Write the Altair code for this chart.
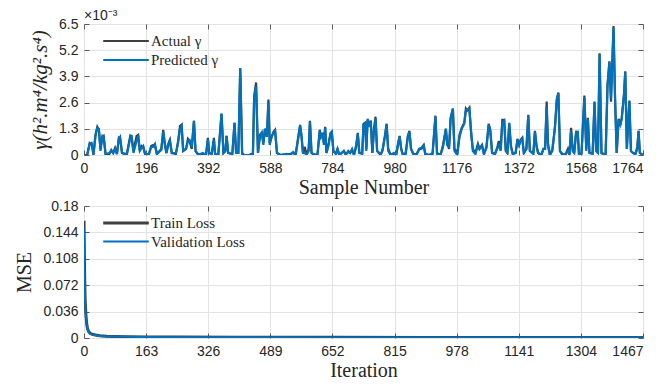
import altair as alt
import pandas as pd

# ---------------- data ----------------
# top panel: sample index, actual and predicted gamma (values in units of 1e-3)
sample_idx = [0, 10, 18, 24, 30, 36, 42, 47, 52, 58, 62, 68, 80, 86, 92, 98, 104, 110, 114, 120,
              135, 146, 150, 156, 166, 171, 176, 182, 187, 193, 205, 212, 218, 224, 230, 244, 250,
              255, 260, 266, 271, 277, 290, 297, 303, 308, 313, 322, 328, 333, 340, 347, 352, 360,
              375, 385, 391, 395, 403, 410, 414, 424, 434, 440, 446, 450, 455, 468, 475, 480, 487,
              493, 499, 505, 520, 528, 533, 537, 543, 549, 555, 561, 566, 571, 577, 582, 586, 592,
              598, 603, 609, 620, 640, 650, 660, 668, 675, 682, 686, 691, 697, 702, 709, 713, 718,
              728, 737, 744, 748, 753, 757, 761, 765, 772, 778, 782, 787, 795, 800, 806, 820, 826,
              834, 840, 846, 852, 859, 864, 869, 878, 882, 887, 891, 895, 900, 905, 910, 915, 920,
              925, 936, 942, 949, 955, 960, 968, 978, 985, 991, 996, 1001, 1006, 1015, 1022, 1027,
              1032, 1040, 1050, 1058, 1065, 1072, 1077, 1090, 1100, 1109, 1114, 1125, 1133, 1142,
              1146, 1152, 1157, 1164, 1169, 1178, 1185, 1192, 1200, 1205, 1209, 1216, 1222, 1227,
              1235, 1243, 1248, 1256, 1262, 1270, 1277, 1282, 1288, 1297, 1303, 1309, 1315, 1320,
              1326, 1331, 1336, 1342, 1347, 1353, 1362, 1368, 1373, 1378, 1383, 1388, 1396, 1402,
              1407, 1418, 1423, 1428, 1433, 1443, 1450, 1455, 1460, 1464, 1470, 1478, 1486, 1492,
              1497, 1502, 1510, 1520, 1527, 1532, 1537, 1542, 1547, 1553, 1558, 1562, 1570, 1579,
              1585, 1590, 1595, 1605, 1611, 1616, 1622, 1627, 1633, 1640, 1646, 1652, 1658, 1663,
              1671, 1676, 1681, 1687, 1692, 1697, 1704, 1708, 1713, 1721, 1726, 1733, 1740, 1746,
              1750, 1754, 1764]
actual_e3 = [0, 0, 0.6, 0.55, 0, 1.0, 1.4, 1.25, 0.3, 0.9, 0.95, 0.05, 0.05, 0.25, 0.1, 0.35, 0.05,
             0.85, 0.8, 0.1, 0.05, 0.95, 0.9, 0.2, 0.95, 1.0, 0.2, 0.45, 0.4, 0.0, 0.05, 0.45, 0.5,
             0.45, 0.05, 0.3, 1.25, 0.6, 0.1, 0.55, 0.75, 0.1, 0.05, 0.7, 1.45, 1.5, 0.2, 0.3, 0.8,
             0.7, 0.3, 1.7, 0.2, 0.05, 0.05, 0.0, 0.85, 0.1, 0.05, 0.85, 0.0, 0.05, 2.05, 0.1, 0.2,
             0.95, 0.1, 0.05, 1.6, 0.1, 0.1, 4.3, 0.1, 0.0, 0.0, 0.05, 0.0, 2.9, 3.6, 0.1, 1.0, 1.1,
             0.6, 1.3, 0.9, 2.75, 0.6, 0.9, 1.15, 1.25, 0.1, 0.0, 0.05, 0.05, 0.1, 0.0, 0.8, 1.45,
             1.0, 0.1, 0.4, 0.0, 0.3, 1.7, 0.1, 0.0, 0.05, 1.25, 0.9, 1.1, 0.6, 1.4, 0.1, 0.6, 1.1,
             1.15, 0.2, 0.05, 0.3, 0.0, 0.2, 0.0, 0.2, 0.1, 0.25, 0.0, 0.5, 1.1, 0.1, 0.1, 1.55,
             1.6, 0.3, 1.75, 1.5, 1.7, 0.1, 1.3, 1.9, 0.2, 0.0, 0.25, 0.9, 1.55, 0.3, 0.0, 0.05,
             0.0, 0.5, 0.95, 0.3, 0.0, 0.1, 0.95, 1.2, 0.3, 0.05, 0.05, 0.3, 0.35, 0.5, 0.05, 0.0,
             0.05, 1.95, 0.1, 0.0, 0.5, 1.3, 0.6, 0.3, 1.85, 2.3, 0.3, 0.1, 1.0, 1.35, 1.6, 2.3,
             2.2, 2.35, 1.0, 0.3, 0.1, 0.55, 0.3, 0.5, 0.05, 0.4, 1.55, 1.25, 0.1, 0.05, 0.3, 0.7,
             0.3, 1.75, 1.75, 0.2, 0.1, 1.55, 0.5, 0.05, 0.1, 0.8, 0.5, 0.75, 0.85, 0.1, 0.3, 2.0,
             0.2, 0.1, 1.2, 0.5, 0.1, 0.0, 0.3, 0.3, 2.65, 0.6, 0.0, 0.2, 1.4, 2.8, 3.1, 0.2, 0.0,
             0.05, 0.3, 0.0, 1.35, 0.3, 0.1, 1.15, 1.15, 0.0, 0.1, 2.95, 0.3, 1.85, 0.1, 0.1, 2.65,
             0.3, 0.1, 5.05, 0.1, 0.05, 0.0, 3.5, 4.65, 2.65, 6.4, 2.7, 0.1, 1.8, 1.45, 1.85, 3.0,
             4.15, 0.3, 2.7, 0.2, 0.1, 0.05, 0.4, 1.2, 0.1, 0.0]
predicted_e3 = [0, 0, 0.55, 0.6, 0.05, 0.9, 1.35, 1.3, 0.2, 0.95, 0.9, 0.05, 0.1, 0.2, 0.1, 0.3,
                0.05, 0.8, 0.9, 0.1, 0.0, 0.85, 1.0, 0.1, 0.7, 0.95, 0.2, 0.35, 0.45, 0.05, 0.05,
                0.4, 0.4, 0.55, 0.05, 0.25, 1.15, 0.5, 0.1, 0.5, 0.7, 0.1, 0.1, 0.6, 1.3, 1.45, 0.2,
                0.3, 0.7, 0.75, 0.4, 1.7, 0.2, 0.0, 0.1, 0.0, 0.8, 0.1, 0.05, 0.75, 0.0, 0.05, 2.05,
                0.1, 0.2, 0.95, 0.1, 0.05, 1.6, 0.1, 0.1, 4.3, 0.05, 0.0, 0.0, 0.0, 0.05, 2.9, 3.4,
                0.1, 0.9, 1.1, 0.5, 1.3, 0.9, 2.6, 0.5, 0.9, 1.1, 1.2, 0.1, 0.0, 0.05, 0.0, 0.15,
                0.05, 0.7, 1.5, 1.0, 0.1, 0.1, 0.0, 0.2, 1.65, 0.1, 0.0, 0.05, 1.2, 0.9, 1.0, 0.5,
                1.35, 0.1, 0.5, 1.05, 1.15, 0.2, 0.05, 0.3, 0.0, 0.2, 0.05, 0.15, 0.1, 0.3, 0.0,
                0.4, 1.05, 0.1, 0.05, 1.5, 1.55, 0.2, 1.8, 1.5, 1.6, 0.1, 1.2, 1.8, 0.2, 0.05, 0.2,
                0.85, 1.5, 0.2, 0.0, 0.1, 0.0, 0.6, 0.9, 0.3, 0.05, 0.0, 0.9, 1.15, 0.3, 0.0, 0.05,
                0.3, 0.3, 0.45, 0.05, 0.0, 0.1, 1.9, 0.05, 0.0, 0.4, 1.3, 0.5, 0.4, 1.8, 2.3, 0.2,
                0.0, 0.9, 1.3, 1.55, 2.2, 2.25, 2.3, 1.1, 0.2, 0.05, 0.5, 0.3, 0.45, 0.05, 0.35,
                1.5, 1.2, 0.1, 0.05, 0.3, 0.5, 0.2, 1.6, 1.7, 0.2, 0.1, 1.6, 0.4, 0.05, 0.1, 0.75,
                0.5, 0.7, 0.8, 0.1, 0.3, 1.95, 0.2, 0.05, 1.15, 0.4, 0.1, 0.0, 0.3, 0.3, 2.4, 0.5,
                0.0, 0.3, 1.3, 2.7, 3.05, 0.2, 0.05, 0.05, 0.2, 0.05, 1.2, 0.2, 0.1, 1.15, 1.15,
                0.05, 0.05, 2.85, 0.2, 1.8, 0.1, 0.05, 2.6, 0.2, 0.1, 5.0, 0.1, 0.05, 0.0, 3.4, 4.6,
                2.8, 6.3, 2.7, 0.1, 1.75, 1.5, 1.8, 3.0, 4.1, 0.3, 2.65, 0.2, 0.1, 0.05, 0.3, 1.2,
                0.1, 0.0]

# bottom panel: training history
iteration = [0, 1, 2, 3, 5, 7, 9, 12, 16, 22, 30, 42, 60, 80, 110, 160, 250, 400, 650, 900, 1200, 1467]
train_loss = [0.160, 0.115, 0.075, 0.052, 0.032, 0.020, 0.013, 0.009, 0.0065, 0.0050, 0.0040,
              0.0030, 0.0024, 0.0020, 0.0017, 0.0014, 0.0012, 0.0010, 0.0009, 0.0008, 0.0008, 0.0007]
val_loss = [0.148, 0.105, 0.068, 0.047, 0.029, 0.018, 0.012, 0.0085, 0.0060, 0.0046, 0.0037,
            0.0028, 0.0022, 0.0019, 0.0016, 0.0013, 0.0011, 0.0010, 0.0008, 0.0008, 0.0007, 0.0007]

x_ticks_top = [0, 196, 392, 588, 784, 980, 1176, 1372, 1568, 1764]
y_ticks_top = [0, 1.3, 2.6, 3.9, 5.2, 6.5]
x_ticks_bot = [0, 163, 326, 489, 652, 815, 978, 1141, 1304, 1467]
y_ticks_bot = [0, 0.036, 0.072, 0.108, 0.144, 0.18]

series_top = ["Actual γ", "Predicted γ"]
series_bot = ["Train Loss", "Validation Loss"]
colors = ["#404040", "#0072BD"]

# ---------------- build tables ----------------
df_top = pd.concat([
    pd.DataFrame({"s": sample_idx, "v": actual_e3, "series": series_top[0], "o": 0}),
    pd.DataFrame({"s": sample_idx, "v": predicted_e3, "series": series_top[1], "o": 1}),
])
df_bot = pd.concat([
    pd.DataFrame({"s": iteration, "v": train_loss, "series": series_bot[0], "o": 0}),
    pd.DataFrame({"s": iteration, "v": val_loss, "series": series_bot[1], "o": 1}),
])

W = 559
H_TOP = 131
H_BOT = 132
AX = "#262626"
BOX = "#5a5a5a"
SANS = "Liberation Sans"
SERIF = "Liberation Serif"

label_style = dict(labelFont=SANS, labelFontSize=14, labelColor=AX)
title_style = dict(titleFont=SERIF, titleFontSize=20, titleFontWeight="normal", titleColor=AX)


def last_right(last):
    return {"condition": {"test": f"datum.value >= {last}", "value": "right"}, "value": "center"}


def tick_axis(orient, values, offset):
    return alt.Axis(orient=orient, values=values, offset=offset, domain=False, labels=False,
                    grid=False, ticks=True, tickSize=5, tickColor=BOX, tickWidth=1, title=None)


def panel(df, xdom, ydom, xticks, yticks, xtitle, ytitle, series, h, ytitle_italic, swidths,
          ytitle_size, extra=None):
    last = xticks[-1]
    xs = alt.Scale(domain=xdom, nice=False, zero=False)
    ys = alt.Scale(domain=ydom, nice=False, zero=False)
    ytitle_style = dict(title_style, titleFontSize=ytitle_size)
    lines = alt.Chart(df).mark_line(clip=True).encode(
        x=alt.X("s:Q", scale=xs, axis=alt.Axis(
            orient="bottom", values=xticks, title=xtitle, grid=True, gridColor="#e3e3e3",
            ticks=False, domain=False, labelExpr="format(datum.value, 'd')",
            labelPadding=6, labelAlign=last_right(last), titlePadding=2,
            **label_style, **title_style)),
        y=alt.Y("v:Q", scale=ys, axis=alt.Axis(
            orient="left", values=yticks, title=ytitle, grid=True, gridColor="#e3e3e3",
            ticks=False, domain=False,
            labelExpr="format(datum.value, '.4~g')", labelPadding=6, titlePadding=8,
            titleFontStyle="italic" if ytitle_italic else "normal",
            **label_style, **ytitle_style)),
        color=alt.Color("series:N", scale=alt.Scale(domain=series, range=colors),
                        legend=alt.Legend(title=None, orient="none", legendX=31, legendY=6,
                                          symbolType="M-2.4,0H2.4", symbolSize=361,
                                          symbolStrokeWidth=3, labelFont=SERIF,
                                          labelFontSize=15, labelColor=AX, padding=0,
                                          rowPadding=-3, labelOffset=14, labelBaseline="middle")),
        strokeWidth=alt.StrokeWidth("series:N", scale=alt.Scale(domain=series, range=swidths),
                                    legend=None),
        order="o:Q",
    )
    t1 = alt.Chart(df).mark_line(opacity=0).encode(
        x=alt.X("s:Q", scale=xs, axis=tick_axis("top", xticks, -h)),
        y=alt.Y("v:Q", scale=ys, axis=tick_axis("right", yticks, -W)),
    )
    t2 = alt.Chart(df).mark_line(opacity=0).encode(
        x=alt.X("s:Q", scale=xs, axis=tick_axis("bottom", xticks, -h)),
        y=alt.Y("v:Q", scale=ys, axis=tick_axis("left", yticks, -W)),
    )
    layers = [lines, t1, t2]
    if extra is not None:
        layers.append(extra)
    return alt.layer(*layers).resolve_axis(x="independent", y="independent").resolve_scale(
        color="independent", strokeWidth="independent").properties(width=W, height=h)


mult = alt.Chart(pd.DataFrame({"t": ["×10⁻³"]})).mark_text(
    align="left", baseline="alphabetic", font=SANS, fontSize=14, color=AX
).encode(text="t:N", x=alt.value(0), y=alt.value(-4))

top = panel(df_top, [0, 1764], [0, 6.5], x_ticks_top, y_ticks_top, "Sample Number",
            "γ(h².m⁴/kg².s⁴)", series_top, H_TOP, True, [2.2, 2.2], 21, extra=mult)

bottom = panel(df_bot, [0, 1467], [0, 0.18], x_ticks_bot, y_ticks_bot, "Iteration",
               "MSE", series_bot, H_BOT, False, [3.0, 2.0], 20)

chart = alt.vconcat(top, bottom, spacing=51, bounds="flush").resolve_scale(
    color="independent", strokeWidth="independent"
).properties(
    padding={"left": 6, "top": 0, "right": 5, "bottom": 0}
).configure_view(stroke=BOX, strokeWidth=1).configure(background="white")

chart.save("out.html", embed_options={"renderer": "svg", "actions": False})
